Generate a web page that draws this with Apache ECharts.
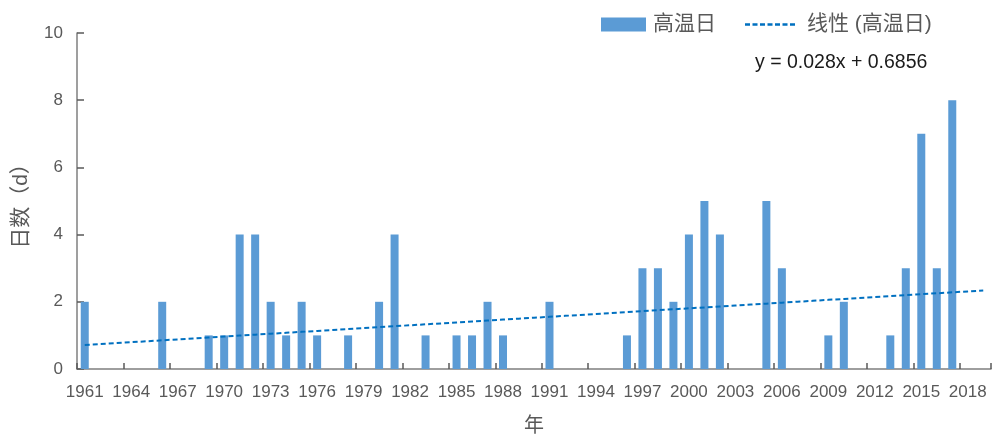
<!DOCTYPE html>
<html><head><meta charset="utf-8">
<script src="https://cdn.jsdelivr.net/npm/echarts@6/dist/echarts.min.js"></script>
<style>html,body{margin:0;padding:0;background:#fff}#c{width:992px;height:436px}</style>
</head><body><div id="c"></div>
<script>
const years = [];
for (let y = 1961; y <= 2019; y++) years.push(String(y));
// 高温日 values per year 1961..2019
const hotDays = [
  2,0,0,0,0,2,0,0,1,1,   // 1961-1970
  4,4,2,1,2,1,0,1,0,2,   // 1971-1980
  4,0,1,0,1,1,2,1,0,0,   // 1981-1990
  2,0,0,0,0,1,3,3,2,4,   // 1991-2000
  5,4,0,0,5,3,0,0,1,2,   // 2001-2010
  0,0,1,3,7,3,8,0,0      // 2011-2019
];
const slope = 0.028, intercept = 0.6856;
const trend = years.map((_, i) => +(slope * (i + 1) + intercept).toFixed(4));
const yTicks = [0, 2, 4, 6, 8, 10];

const FONT = '"Liberation Sans","Noto Sans CJK SC",sans-serif';
const TXT = '#595959';
const DASH_ICON = 'path://M0,0h6v3h-6zM9,0h6v3h-6zM18,0h6v3h-6zM27,0h6v3h-6zM36,0h6v3h-6zM45,0h6v3h-6zM54,0h6v3h-6z';
const chart = echarts.init(document.getElementById('c'), null, {renderer: 'canvas'});
chart.setOption({
  animation: false,
  textStyle: {fontFamily: FONT},
  grid: {left: 77, right: 1, top: 33, bottom: 67, containLabel: false, outerBoundsMode: 'none'},
  legend: [
    {data: [{name: '高温日', icon: 'rect'}], left: 596, top: 9, itemWidth: 45, itemHeight: 14, itemGap: 0,
     textStyle: {fontFamily: FONT, fontSize: 21, color: TXT, padding: [0,0,0,2]}},
    {data: [{name: '线性 (高温日)', icon: DASH_ICON, itemStyle: {color: '#0070C0'}}],
     left: 740, top: 9, itemWidth: 60, itemHeight: 2.5, itemGap: 0,
     textStyle: {fontFamily: FONT, fontSize: 21, color: TXT, padding: [0,0,0,2]}}
  ],
  graphic: [{type: 'text', left: 755, top: 53,
    style: {text: 'y = 0.028x + 0.6856', font: '19.5px ' + FONT, fill: '#1a1a1a'}}],
  xAxis: {
    type: 'category', data: years, boundaryGap: true,
    name: '年', nameLocation: 'middle', nameGap: 47,
    nameTextStyle: {fontSize: 20, color: TXT, fontFamily: FONT},
    axisLine: {lineStyle: {color: '#7f7f7f', width: 1.5}},
    axisTick: {show: true, inside: true, interval: 2, length: 6, lineStyle: {color: '#595959', width: 1.5}},
    axisLabel: {interval: 2, fontSize: 17, color: TXT, margin: 15, fontFamily: FONT}
  },
  yAxis: {
    type: 'value', min: 0, max: 10, interval: 2,
    name: '日数（d）', nameLocation: 'middle', nameGap: 45, nameRotate: 90,
    nameTextStyle: {fontSize: 21, color: TXT, fontFamily: FONT},
    axisLine: {show: true, lineStyle: {color: '#7f7f7f', width: 1.5}},
    axisTick: {show: true, inside: true, length: 7, lineStyle: {color: '#595959', width: 1.5}},
    splitLine: {show: false},
    axisLabel: {fontSize: 17, color: TXT, margin: 14, fontFamily: FONT,
      formatter: v => yTicks.includes(v) ? String(v) : ''}
  },
  series: [
    {name: '高温日', type: 'bar', data: hotDays, barWidth: 8,
     itemStyle: {color: '#5B9BD5'}},
    {name: '线性 (高温日)', type: 'line', data: trend, symbol: 'none', showSymbol: false,
     lineStyle: {color: '#0070C0', width: 2, type: [5, 3]}, itemStyle: {color: '#0070C0'}, z: 5}
  ]
});
</script></body></html>
